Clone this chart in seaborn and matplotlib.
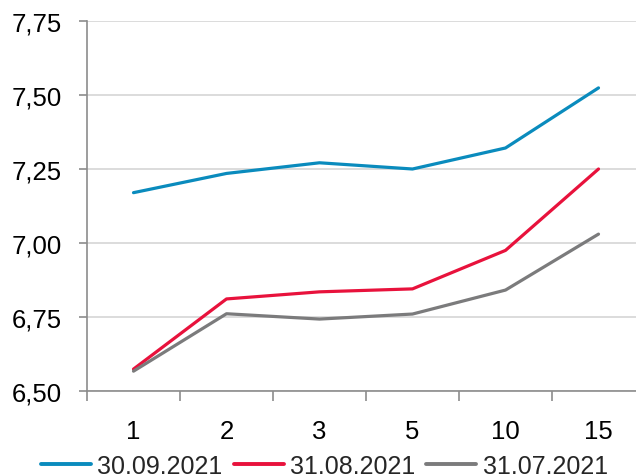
import matplotlib
matplotlib.use("Agg")
import matplotlib.pyplot as plt
import pandas as pd
import seaborn as sns

# data
maturities = ["1", "2", "3", "5", "10", "15"]
series_names = ["30.09.2021", "31.08.2021", "31.07.2021"]
sep_2021 = [7.170, 7.235, 7.271, 7.250, 7.321, 7.524]
aug_2021 = [6.574, 6.811, 6.835, 6.845, 6.975, 7.250]
jul_2021 = [6.567, 6.761, 6.743, 6.760, 6.841, 7.030]
yticks = [6.50, 6.75, 7.00, 7.25, 7.50, 7.75]

colors = ["#0a8bbd", "#e8123c", "#7b7b7c"]

rows = []
for name, vals in zip(series_names, [sep_2021, aug_2021, jul_2021]):
    for i, v in enumerate(vals):
        rows.append({"pos": i, "value": v, "series": name})
df = pd.DataFrame(rows)

sns.set_theme(style="white")
plt.rcParams["font.family"] = ["Liberation Sans", "DejaVu Sans"]

fig = plt.figure(figsize=(6.36, 4.77), dpi=100)
# right edge of the plot area runs past the picture, as in the reference
ax = fig.add_axes([87 / 636, 85 / 477, 558 / 636, 370 / 477])

sns.lineplot(data=df, x="pos", y="value", hue="series", palette=colors,
             linewidth=2.3, ax=ax, legend=False)

ax.set_xlim(-0.5, 5.5)
ax.set_ylim(6.5, 7.75)
ax.set_yticks(yticks)
ax.set_yticklabels([f"{t:.2f}".replace(".", ",") for t in yticks])
ax.grid(axis="y", color="#d9d9d9", linewidth=1.3)
ax.set_axisbelow(True)

# tick marks between categories, labels at the centres
ax.set_xticks([i - 0.5 for i in range(7)])
ax.set_xticklabels([])
ax.set_xticks(range(len(maturities)), minor=True)
ax.set_xticklabels(maturities, minor=True)
ax.tick_params(axis="x", which="major", length=7, width=1.2, color="#8c8c8c", direction="out")
ax.tick_params(axis="x", which="minor", length=0, pad=20, labelsize=18.5, labelcolor="black")
ax.tick_params(axis="y", length=6, width=1.2, color="#8c8c8c", direction="out",
               pad=12, labelsize=18.5, labelcolor="black")
ax.tick_params(bottom=True, left=True)

for side in ["top", "right"]:
    ax.spines[side].set_visible(False)
for side in ["left", "bottom"]:
    ax.spines[side].set_color("#8c8c8c")
    ax.spines[side].set_linewidth(1.2)

ax.set_xlabel("")
ax.set_ylabel("")

handles = [plt.Line2D([], [], color=c, linewidth=2.8) for c in colors]
fig.legend(handles, series_names, loc="center", bbox_to_anchor=(0.51, 0.022),
           ncol=3, frameon=False, fontsize=18, handlelength=2.0,
           handletextpad=0.25, columnspacing=0.45, borderpad=0)

plt.savefig("out.png", dpi=100)
plt.close()
